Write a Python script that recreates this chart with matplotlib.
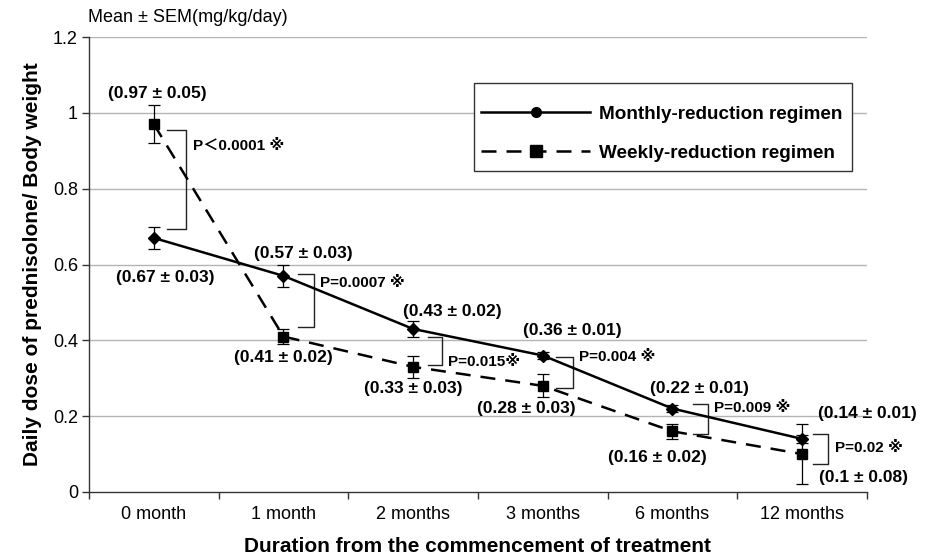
import matplotlib
matplotlib.use("Agg")
import matplotlib.pyplot as plt
from matplotlib.lines import Line2D
from matplotlib.patches import Rectangle

plt.rcParams['font.family'] = ['Liberation Sans', 'DejaVu Sans', 'Noto Sans CJK JP']

# data
categories = ["0 month", "1 month", "2 months", "3 months", "6 months", "12 months"]
monthly = [0.67, 0.57, 0.43, 0.36, 0.22, 0.14]
monthly_sem = [0.03, 0.03, 0.02, 0.01, 0.01, 0.01]
weekly = [0.97, 0.41, 0.33, 0.28, 0.16, 0.10]
weekly_sem = [0.05, 0.02, 0.03, 0.03, 0.02, 0.08]
p_labels = ["P\uff1c0.0001 \u203b", "P=0.0007 \u203b", "P=0.015\u203b",
            "P=0.004 \u203b", "P=0.009 \u203b", "P=0.02 \u203b"]

x = list(range(len(categories)))

fig = plt.figure(figsize=(9.29, 5.57), dpi=100)
ax = fig.add_axes([89 / 929, 1 - 492 / 557, (867 - 89) / 929, (492 - 37) / 557])

# grid
for v in [0.2, 0.4, 0.6, 0.8, 1.0, 1.2]:
    ax.axhline(v, color="#b4b4b4", lw=1.0, zorder=0)

ax.errorbar(x, monthly, yerr=monthly_sem, color="black", lw=1.8, marker="D",
            markersize=6, ecolor="black", elinewidth=0.9, capsize=4, capthick=0.9, zorder=3)
ax.errorbar(x, weekly, yerr=weekly_sem, color="black", lw=1.8, ls=(0, (6, 4)), marker="s",
            markersize=7.5, ecolor="black", elinewidth=0.9, capsize=4, capthick=0.9, zorder=3)

ax.set_xlim(-0.5, 5.5)
ax.set_ylim(0, 1.2)
ax.set_yticks([0, 0.2, 0.4, 0.6, 0.8, 1.0, 1.2])
ax.set_yticklabels(["0", "0.2", "0.4", "0.6", "0.8", "1", "1.2"])
ax.set_xticks(x)
ax.set_xticklabels(categories)
ax.set_xticks([i - 0.5 for i in range(len(categories) + 1)], minor=True)
ax.tick_params(axis="x", which="major", length=0, pad=10, labelsize=13)
ax.tick_params(axis="x", which="minor", length=5, width=1, color="#333333")
ax.tick_params(axis="y", length=5, width=1, color="#333333", labelsize=13, pad=3)
for s in ["top", "right"]:
    ax.spines[s].set_visible(False)
for s in ["left", "bottom"]:
    ax.spines[s].set_color("#333333")
    ax.spines[s].set_linewidth(1.0)

ax.set_xlabel("Duration from the commencement of treatment", fontsize=15,
              fontweight="bold", labelpad=10)
ax.set_ylabel("Daily dose of prednisolone/ Body weight", fontsize=15,
              fontweight="bold", labelpad=8)
fig.text(88 / 929, 1 - 18 / 557, "Mean \u00b1 SEM(mg/kg/day)", fontsize=13, va="center")

# value labels (offsets from category, y position)
m_pos = [(0.085, 0.567), (0.15, 0.63), (0.30, 0.475), (0.23, 0.427), (0.21, 0.274), (0.50, 0.208)]
w_pos = [(0.03, 1.05), (0.0, 0.354), (0.0, 0.274), (-0.13, 0.219), (-0.12, 0.092), (0.47, 0.037)]
for i in x:
    dx, yy = m_pos[i]
    ax.text(i + dx, yy, f"({monthly[i]:g} \u00b1 {monthly_sem[i]:g})", ha="center", va="center",
            fontsize=12.5, fontweight="bold", clip_on=False)
    dx, yy = w_pos[i]
    ax.text(i + dx, yy, f"({weekly[i]:g} \u00b1 {weekly_sem[i]:g})", ha="center", va="center",
            fontsize=12.5, fontweight="bold", clip_on=False)

# significance brackets: (vertical x offset, arm start offset, top, bottom, text y)
brackets = [(0.25, 0.10, 0.955, 0.694, 0.913),
            (0.235, 0.11, 0.575, 0.435, 0.55),
            (0.22, 0.115, 0.41, 0.335, 0.343),
            (0.23, 0.10, 0.356, 0.274, 0.356),
            (0.27, 0.155, 0.232, 0.153, 0.222),
            (0.20, 0.085, 0.153, 0.074, 0.116)]
for i, (vx, ax0, top, bot, ty) in enumerate(brackets):
    ax.plot([i + ax0, i + vx, i + vx, i + ax0], [top, top, bot, bot], color="#222222",
            lw=1.0, zorder=2, clip_on=False)
    ax.text(i + vx + 0.05, ty, p_labels[i], ha="left", va="center", fontsize=11,
            fontweight="bold", clip_on=False)

# legend: frame drawn separately so it can be sized like the original
frame = Rectangle((474 / 929, 1 - 171 / 557), 378 / 929, 88 / 557, transform=fig.transFigure,
                  facecolor="white", edgecolor="#333333", lw=1.0, zorder=4)
fig.add_artist(frame)
handles = [Line2D([], [], color="black", lw=1.8, marker="o", markersize=7),
           Line2D([], [], color="black", lw=1.8, ls=(0, (6, 4)), marker="s", markersize=9)]
leg = fig.legend(handles, ["Monthly-reduction regimen", "Weekly-reduction regimen"],
                 loc="center left", bbox_to_anchor=(470 / 929, 1 - 133.5 / 557),
                 frameon=False, handlelength=5.75, handletextpad=0.5,
                 labelspacing=1.15, borderpad=0.6, borderaxespad=0,
                 prop={"weight": "bold", "size": 13.6})
leg.set_zorder(5)

fig.savefig("out.png", dpi=100)
